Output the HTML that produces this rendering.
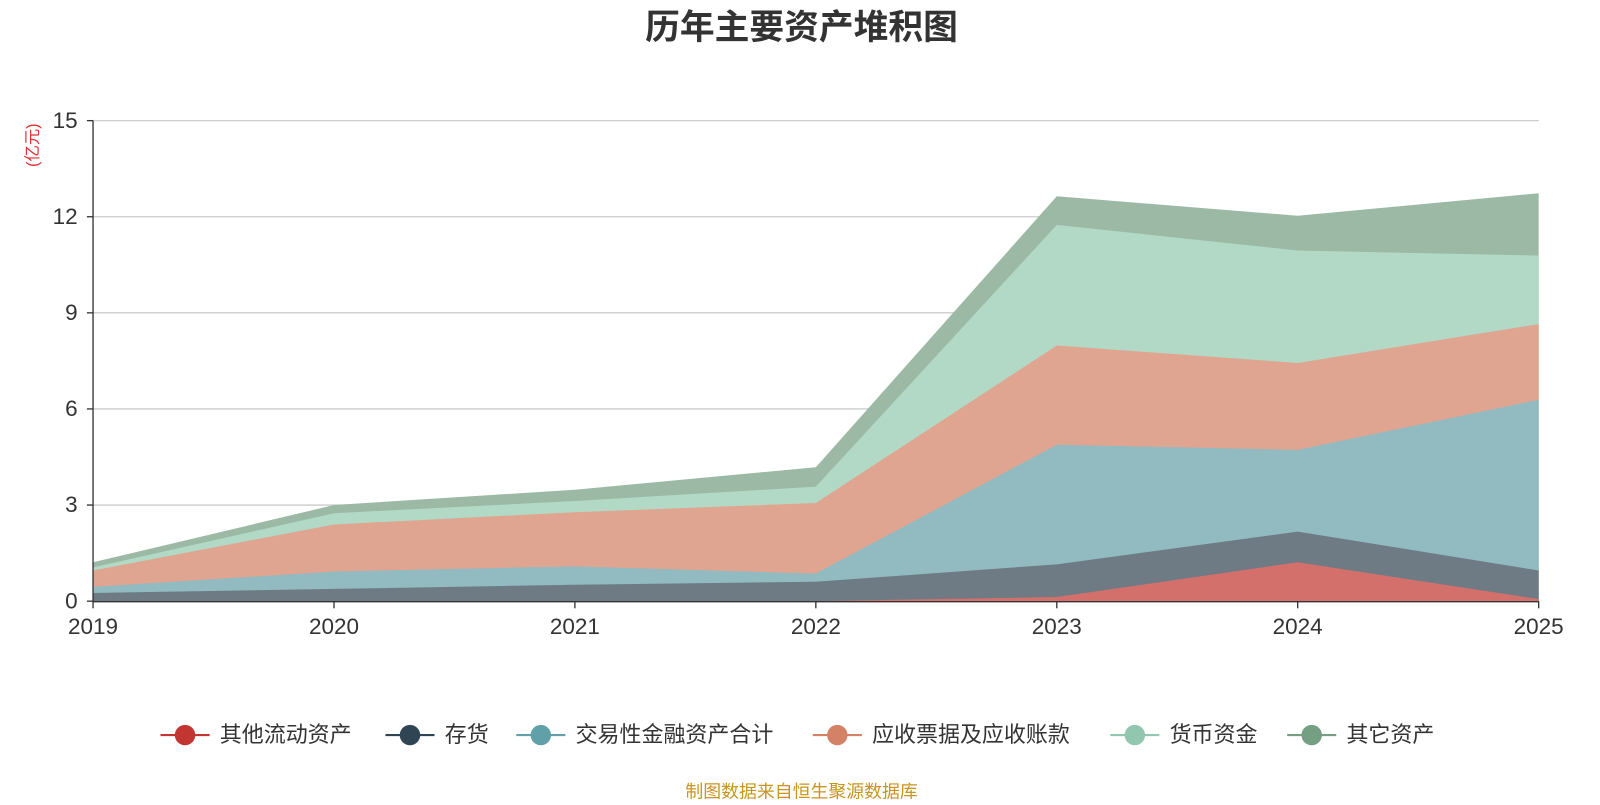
<!DOCTYPE html>
<html><head><meta charset="utf-8"><style>
body{margin:0;background:#fff;width:1600px;height:800px;overflow:hidden}
svg text{font-family:"Liberation Sans","Noto Sans CJK SC",sans-serif}
</style></head><body>
<svg width="1600" height="800" viewBox="0 0 1565 782.5" preserveAspectRatio="none">
<text x="784" y="38" text-anchor="middle" font-size="34" font-weight="bold" fill="#333">历年主要资产堆积图</text>
<text transform="translate(37,142) rotate(-90)" text-anchor="middle" font-size="16" fill="#e03030">(亿元)</text>
<g stroke="#ccc" stroke-width="1.3">
<line x1="91" y1="118" x2="1505" y2="118"/><line x1="91" y1="212" x2="1505" y2="212"/>
<line x1="91" y1="306" x2="1505" y2="306"/><line x1="91" y1="400" x2="1505" y2="400"/>
<line x1="91" y1="494" x2="1505" y2="494"/></g>
<g>
<polygon fill="#9bb9a4" points="91,550 326.7,494 562.3,479 798,457 1033.7,192 1269.3,211 1505,189 1505,588 91,588"/>
<polygon fill="#b1d9c6" points="91,555 326.7,502 562.3,490 798,476 1033.7,220 1269.3,245 1505,250 1505,588 91,588"/>
<polygon fill="#e0a590" points="91,558 326.7,513 562.3,501 798,492 1033.7,338 1269.3,355 1505,317 1505,588 91,588"/>
<polygon fill="#91bac1" points="91,574 326.7,559 562.3,554 798,561 1033.7,435 1269.3,440 1505,391 1505,588 91,588"/>
<polygon fill="#6e7b85" points="91,580 326.7,576 562.3,572 798,569 1033.7,552 1269.3,520 1505,558 1505,588 91,588"/>
<polygon fill="#d4706b" points="91,588 326.7,588 562.3,588 798,588 1033.7,584 1269.3,550 1505,586 1505,588 91,588"/>
</g>
<g stroke="#333" stroke-width="1.3">
<line x1="91" y1="118" x2="91" y2="589"/><line x1="91" y1="588.5" x2="1505" y2="588.5"/>
<line x1="85" y1="118" x2="91" y2="118"/><line x1="85" y1="212" x2="91" y2="212"/><line x1="85" y1="306" x2="91" y2="306"/><line x1="85" y1="400" x2="91" y2="400"/><line x1="85" y1="494" x2="91" y2="494"/><line x1="85" y1="588" x2="91" y2="588"/>
<line x1="91" y1="588" x2="91" y2="595"/><line x1="326.7" y1="588" x2="326.7" y2="595"/><line x1="562.3" y1="588" x2="562.3" y2="595"/><line x1="798" y1="588" x2="798" y2="595"/><line x1="1033.7" y1="588" x2="1033.7" y2="595"/><line x1="1269.3" y1="588" x2="1269.3" y2="595"/><line x1="1505" y1="588" x2="1505" y2="595"/>
</g>
<g font-size="22" fill="#333" text-anchor="end">
<text x="76" y="125">15</text><text x="76" y="219">12</text><text x="76" y="313">9</text><text x="76" y="407">6</text><text x="76" y="501">3</text><text x="76" y="595">0</text></g>
<g font-size="22" fill="#333" text-anchor="middle">
<text x="91" y="620">2019</text><text x="326.7" y="620">2020</text><text x="562.3" y="620">2021</text><text x="798" y="620">2022</text><text x="1033.7" y="620">2023</text><text x="1269.3" y="620">2024</text><text x="1505" y="620">2025</text></g>
<g font-size="21.5" fill="#333">
<line x1="157" y1="719" x2="205" y2="719" stroke="#c23531" stroke-width="2"/><circle cx="181" cy="719" r="10" fill="#c23531"/><text x="215" y="726">其他流动资产</text>
<line x1="377" y1="719" x2="425" y2="719" stroke="#2f4554" stroke-width="2"/><circle cx="401" cy="719" r="10" fill="#2f4554"/><text x="435" y="726">存货</text>
<line x1="505" y1="719" x2="553" y2="719" stroke="#61a0a8" stroke-width="2"/><circle cx="529" cy="719" r="10" fill="#61a0a8"/><text x="563" y="726">交易性金融资产合计</text>
<line x1="795" y1="719" x2="843" y2="719" stroke="#d48265" stroke-width="2"/><circle cx="819" cy="719" r="10" fill="#d48265"/><text x="853" y="726">应收票据及应收账款</text>
<line x1="1086" y1="719" x2="1134" y2="719" stroke="#91c7ae" stroke-width="2"/><circle cx="1110" cy="719" r="10" fill="#91c7ae"/><text x="1144" y="726">货币资金</text>
<line x1="1259" y1="719" x2="1307" y2="719" stroke="#749f83" stroke-width="2"/><circle cx="1283" cy="719" r="10" fill="#749f83"/><text x="1317" y="726">其它资产</text>
</g>
<text x="784" y="780" text-anchor="middle" font-size="17.5" fill="#c8951e">制图数据来自恒生聚源数据库</text>
</svg>
</body></html>
